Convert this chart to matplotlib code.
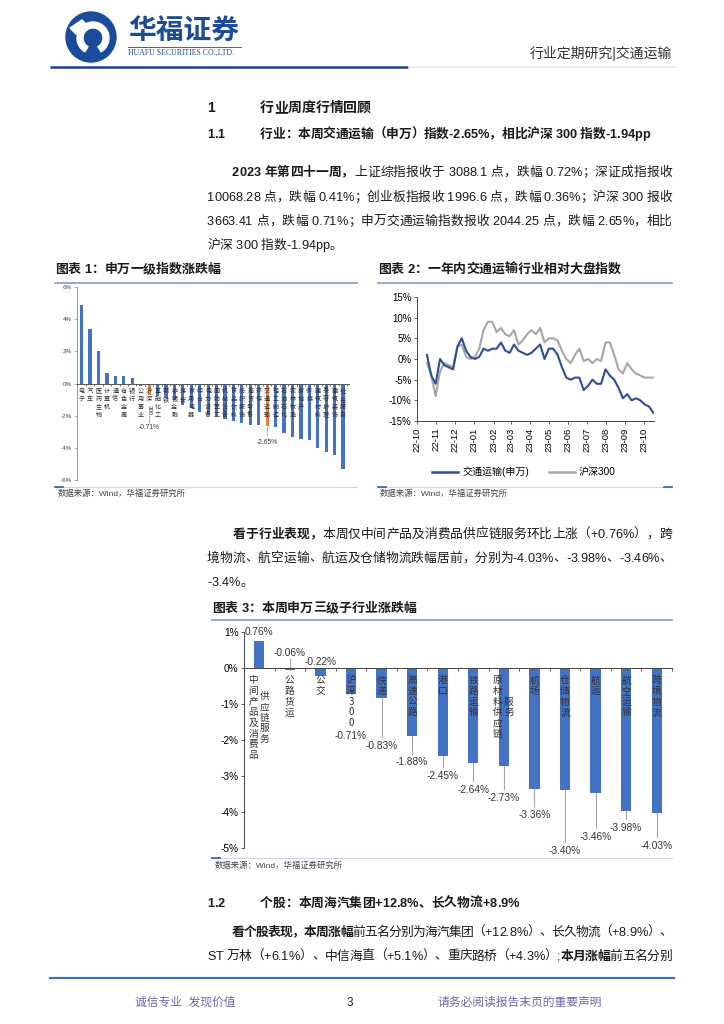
import matplotlib
matplotlib.use('Agg')
import matplotlib.pyplot as plt
import matplotlib.dates as mdates
from matplotlib.font_manager import FontProperties
from matplotlib.patches import Circle, Wedge, Polygon
from matplotlib.lines import Line2D
from matplotlib.ticker import FuncFormatter
import pandas as pd
import numpy as np

plt.rcParams['font.family'] = ['Liberation Sans', 'Noto Sans CJK SC', 'DejaVu Sans']
plt.rcParams['axes.unicode_minus'] = False

# ---------------- data ----------------
# Chart 1: Shenwan level-1 industries weekly change (%)
ind_names = ['电子', '汽车', '医药生物', '计算机', '通信', '有色金属', '银行', '公用事业',
             '沪深300', '基础化工', '钢铁', '非银金融', '煤炭', '家用电器', '综合', '电力设备',
             '国防军工', '机械设备', '食品饮料', '纺织服饰', '商贸零售', '环保', '交通运输',
             '轻工制造', '石油石化', '农林牧渔', '房地产', '传媒', '建筑材料', '美容护理',
             '建筑装饰', '社会服务']
ind_values = [4.90, 3.38, 2.00, 0.65, 0.48, 0.46, 0.35, -0.18,
              -0.71, -0.80, -0.90, -1.05, -1.35, -1.55, -1.75, -1.90,
              -2.05, -2.20, -2.35, -2.45, -2.55, -2.60, -2.65,
              -2.70, -3.05, -3.35, -3.45, -3.50, -3.98, -4.27,
              -4.46, -5.30]
ind_highlight = ['沪深300', '交通运输']

# Chart 2: relative index (%), weekly readings
line_dates = pd.date_range('2022-10-17', periods=53, freq='7D')
transport_idx = [1.0, -4.0, -6.0, 0.0, -1.5, -2.0, -2.5, 3.0, 5.0, 2.0,
                 0.5, 0.0, 0.5, 2.5, 2.0, 2.5, 2.5, 4.0, 2.0, 1.5,
                 3.5, 2.0, 1.5, 1.0, 1.5, 2.5, 3.5, 0.0, 2.5, 2.5,
                 1.0, -2.0, -4.5, -5.0, -4.5, -4.5, -7.5, -6.5, -5.0, -6.0,
                 -6.0, -2.5, -4.0, -5.0, -7.0, -9.5, -8.5, -10.0, -9.5, -10.0,
                 -11.0, -11.5, -13.0]
hs300_idx = [-1.0, -4.0, -9.0, -3.0, -1.0, -1.5, -2.0, 3.0, 3.5, 0.5,
             0.0, 0.5, 2.5, 7.0, 9.0, 9.0, 6.5, 7.5, 6.0, 5.5,
             7.0, 3.5, 4.5, 6.0, 7.0, 6.0, 7.5, 4.0, 5.0, 5.0,
             4.5, 2.0, 0.0, -1.0, 1.0, 2.5, -0.5, 0.0, -1.0, 0.0,
             -0.5, 4.0, 4.0, 1.0, -2.5, -3.5, -1.0, -2.5, -3.5, -4.0,
             -4.5, -4.5, -4.5]
series_names = ['交通运输(申万)', '沪深300']

# Chart 3: Shenwan level-3 transport sub-industries (%)
sub_names = ['中间产品及消费品供应链服务', '公路货运', '公交', '沪深300', '快递', '高速公路',
             '港口', '铁路运输', '原材料供应链服务', '机场', '仓储物流', '航运', '航空运输', '跨境物流']
sub_values = [0.76, -0.06, -0.22, -0.71, -0.83, -1.88, -2.45, -2.64, -2.73,
              -3.36, -3.40, -3.46, -3.98, -4.03]

# ---------------- layout / styling ----------------
W, H = 724, 1024
fig = plt.figure(figsize=(7.24, 10.24), dpi=100)
bg = fig.add_axes([0, 0, 1, 1], zorder=0)
bg.set_xlim(0, W)
bg.set_ylim(H, 0)
bg.axis('off')

CJK = ['Liberation Sans', 'Noto Sans CJK SC', 'DejaVu Sans']
BLUE = '#4472C4'
ORANGE = '#ED7D31'
DARKBLUE = '#2E4D9B'
GRAY = '#A6A6A6'
TXT = '#1a1a1a'


def ax_px(l, t, r, b):
    return fig.add_axes([l / W, 1 - b / H, (r - l) / W, (b - t) / H], zorder=2)


def fp(size, bold=False):
    return FontProperties(family=CJK, size=size, weight='bold' if bold else 'normal')


renderer = fig.canvas.get_renderer()
_cache = {}


def adv(c, size, bold):
    key = (c, size, bold)
    if key not in _cache:
        p = fp(size, bold)
        w2 = renderer.get_text_width_height_descent('H' + c + 'H', p, False)[0]
        w0 = renderer.get_text_width_height_descent('HH', p, False)[0]
        _cache[key] = w2 - w0
    return _cache[key]


def is_cjk(c):
    return ord(c) >= 0x2E80


def draw_runs(x0, yc, runs, size, right=None, color=TXT):
    chars = [(c, b) for t, b in runs for c in t]
    ws = [adv(c, size, b) for c, b in chars]
    nat = sum(ws)
    gaps = [i for i in range(len(chars) - 1)
            if is_cjk(chars[i][0]) or is_cjk(chars[i + 1][0]) or chars[i][0] == ' ']
    extra = 0.0
    if right is not None and gaps:
        extra = (right - x0 - nat) / len(gaps)
    gapset = set(gaps)
    base = yc + size * 100 / 72 * 0.36
    x = x0
    for i, ((c, b), w) in enumerate(zip(chars, ws)):
        if c != ' ':
            bg.text(x, base, c, fontproperties=fp(size, b), va='baseline', ha='left', color=color)
        x += w + (extra if i in gapset else 0)


# ---------------- header ----------------
bg.add_patch(Circle((91, 37), 25, color='#1B4B9B', zorder=3))
bg.add_patch(Wedge((93, 38), 16, 120, 420, width=6, color='white', zorder=4))
bg.add_patch(Polygon([[93, 30], [101, 38], [93, 46], [85, 38]], closed=True, color='#1B4B9B', zorder=5))
bg.add_patch(Polygon([[70, 28], [82, 20], [88, 26], [76, 34]], closed=True, color='white', zorder=4))
bg.text(128, 33, '华福证券', fontproperties=fp(20, True), color='#1B4B9B', va='center', ha='left')
bg.plot([128, 241], [46.5, 46.5], color='#1B4B9B', lw=0.6)
bg.text(128, 53, 'HUAFU SECURITIES CO.,LTD.', family='Liberation Serif', fontsize=5.6,
        color='#1B4B9B', va='center', ha='left')
bg.text(672, 53, '行业定期研究|交通运输', fontproperties=fp(10), color='#333333', va='center', ha='right')
bg.plot([50, 408], [67, 67], color='#1F3F8F', lw=1.8, solid_capstyle='butt')
bg.plot([408, 677], [67, 67], color='#DCE4F2', lw=1.2, solid_capstyle='butt')

# ---------------- section text ----------------
draw_runs(207, 107, [('1', True)], 10)
draw_runs(260, 107, [('行业周度行情回顾', True)], 10)
draw_runs(207, 133, [('1.1', True)], 9.2)
draw_runs(260, 133, [('行业：本周交通运输（申万）指数-2.65%，相比沪深 300 指数-1.94pp', True)], 9.2, right=650)

BS = 9.2
draw_runs(232, 171, [('2023 年第四十一周，', True), ('上证综指报收于 3088.1 点，跌幅 0.72%；深证成指报收', False)], BS, right=672)
draw_runs(207, 196, [('10068.28 点，跌幅 0.41%；创业板指报收 1996.6 点，跌幅 0.36%；沪深 300 报收', False)], BS, right=672)
draw_runs(207, 220, [('3663.41 点，跌幅 0.71%；申万交通运输指数报收 2044.25 点，跌幅 2.65%，相比', False)], BS, right=672)
draw_runs(207, 244, [('沪深 300 指数-1.94pp。', False)], BS)

# chart titles
draw_runs(55, 268, [('图表 1：申万一级指数涨跌幅', True)], 9.3)
draw_runs(378, 268, [('图表 2：一年内交通运输行业相对大盘指数', True)], 9.3)
for (a, b) in [(55, 357), (378, 672)]:
    bg.plot([a, b], [283, 283], color='#7F9CD0', lw=1.2)
    bg.plot([a, b], [487, 487], color='#C9D6EC', lw=0.8)
    bg.plot([a, a + 8], [487, 487], color='#2E5BB0', lw=1.2)
bg.plot([664, 672], [487, 487], color='#2E5BB0', lw=1.2)
bg.text(58, 494, '数据来源：Wind，华福证券研究所', fontproperties=fp(6), color='#444444', va='center')
bg.text(380, 494, '数据来源：Wind，华福证券研究所', fontproperties=fp(6), color='#444444', va='center')

draw_runs(233, 533, [('看于行业表现，', True), ('本周仅中间产品及消费品供应链服务环比上涨（+0.76%），跨', False)], BS, right=672)
draw_runs(207, 557, [('境物流、航空运输、航运及仓储物流跌幅居前，分别为-4.03%、-3.98%、-3.46%、', False)], BS, right=672)
draw_runs(207, 581, [('-3.4%。', False)], BS)

draw_runs(212, 607, [('图表 3：本周申万三级子行业涨跌幅', True)], 9.3)
bg.plot([212, 672], [620, 620], color='#7F9CD0', lw=1.2)
bg.plot([212, 672], [858, 858], color='#C9D6EC', lw=0.8)
bg.plot([212, 220], [858, 858], color='#2E5BB0', lw=1.2)
bg.text(215, 866, '数据来源：Wind，华福证券研究所', fontproperties=fp(6), color='#444444', va='center')

draw_runs(207, 902, [('1.2', True)], 9.2)
draw_runs(260, 902, [('个股：本周海汽集团+12.8%、长久物流+8.9%', True)], 9.2)
draw_runs(232, 931, [('看个股表现，本周涨幅', True), ('前五名分别为海汽集团（+12.8%）、长久物流（+8.9%）、', False)], BS, right=672)
draw_runs(207, 955, [('ST 万林（+6.1%）、中信海直（+5.1%）、重庆路桥（+4.3%）;', False), ('本月涨幅', True), ('前五名分别', False)], BS, right=672)

# footer
bg.plot([50, 674], [978, 978], color='#4A6FB0', lw=1.6)
bg.text(135, 1003, '诚信专业  发现价值', fontproperties=fp(8.5), color='#6B6BA8', va='center')
bg.text(347, 1003, '3', fontproperties=fp(8.5), color='#222222', va='center')
bg.text(437, 1003, '请务必阅读报告末页的重要声明', fontproperties=fp(8.5), color='#6B6BA8', va='center')

pct = FuncFormatter(lambda v, p: f'{v:.0f}%')

# ---------------- chart 1 ----------------
ax1 = ax_px(77, 287, 349, 480)
x1 = np.arange(len(ind_names))
c1 = [ORANGE if n in ind_highlight else BLUE for n in ind_names]
ax1.bar(x1, ind_values, width=0.38, color=c1, zorder=2)
ax1.set_ylim(-6, 6)
ax1.set_xlim(-0.55, len(ind_names) - 0.3)
ax1.set_yticks([-6, -4, -2, 0, 2, 4, 6])
ax1.yaxis.set_major_formatter(pct)
ax1.tick_params(axis='y', labelsize=4.5, length=2, width=0.5, color='#888888', labelcolor='#444444', pad=1.5)
ax1.set_xticks(np.arange(-0.5, len(ind_names), 1))
ax1.tick_params(axis='x', length=1.5, width=0.5, color='#333333', labelbottom=False)
for s in ['top', 'right']:
    ax1.spines[s].set_visible(False)
ax1.spines['bottom'].set_position(('data', 0))
ax1.spines['bottom'].set_color('#555555')
ax1.spines['bottom'].set_linewidth(0.7)
ax1.spines['left'].set_color('#888888')
ax1.spines['left'].set_linewidth(0.6)
ax1.patch.set_alpha(0)
for i, n in enumerate(ind_names):
    cjk_part = ''.join(c for c in n if is_cjk(c))
    asc_part = ''.join(c for c in n if not is_cjk(c))
    t = ax1.text(i, -0.2, '\n'.join(cjk_part), ha='center', va='top', fontsize=4.4, linespacing=1.0,
                 family=['Noto Sans CJK SC', 'DejaVu Sans'], color='#333333', zorder=3)
    if asc_part:
        bb = t.get_window_extent(renderer)
        ybot = ax1.transData.inverted().transform((bb.x0, bb.y0))[1]
        ax1.text(i, ybot - 0.12, asc_part, ha='center', va='top', rotation=-90,
                 fontsize=4.4, color='#333333', zorder=3)
for n, ytxt, l0, l1 in [('沪深300', -2.72, -2.0, -2.42), ('交通运输', -3.65, -2.72, -3.2)]:
    i = ind_names.index(n)
    v = ind_values[i]
    ax1.plot([i, i], [l0, l1], color='#B0B0B0', lw=0.7)
    ax1.text(i, ytxt, f'{v:.2f}%', ha='center', va='center', fontsize=4.8, color='#333333')

# ---------------- chart 2 ----------------
ax2 = ax_px(417, 297, 654, 421)
ax2.plot(line_dates, hs300_idx, color=GRAY, lw=1.5, zorder=2)
ax2.plot(line_dates, transport_idx, color=DARKBLUE, lw=1.5, zorder=3)
ax2.set_ylim(-15, 15)
ax2.set_yticks([-15, -10, -5, 0, 5, 10, 15])
ax2.yaxis.set_major_formatter(pct)
ax2.set_xlim(pd.Timestamp('2022-10-01'), pd.Timestamp('2023-10-17'))
ax2.xaxis.set_major_locator(mdates.MonthLocator())
ax2.xaxis.set_major_formatter(mdates.DateFormatter('%y-%m'))
ax2.tick_params(axis='x', labelrotation=90, labelsize=6.8, length=2.5, width=0.6, color='#444444', pad=2)
ax2.tick_params(axis='y', labelsize=7, length=2.5, width=0.6, color='#444444', pad=1.5)
for s in ['top', 'right']:
    ax2.spines[s].set_visible(False)
for s in ['left', 'bottom']:
    ax2.spines[s].set_color('#444444')
    ax2.spines[s].set_linewidth(0.7)
ax2.patch.set_alpha(0)
handles = [Line2D([], [], color=DARKBLUE, lw=1.8), Line2D([], [], color=GRAY, lw=1.8)]
ax2.legend(handles, series_names, loc='center', bbox_to_anchor=(524 / W, 1 - 472 / H),
           bbox_transform=fig.transFigure, ncol=2, frameon=False,
           handlelength=2.6, columnspacing=2.0, handletextpad=0.4,
           prop=FontProperties(family=['Liberation Sans', 'Noto Sans CJK SC'], size=7.2))

# ---------------- chart 3 ----------------
ax3 = ax_px(244, 632, 672, 848)
x3 = np.arange(len(sub_names))
ax3.bar(x3, sub_values, width=0.34, color=BLUE, zorder=2)
ax3.set_ylim(-5, 1)
ax3.set_xlim(-0.47, len(sub_names) - 0.5)
ax3.set_yticks([-5, -4, -3, -2, -1, 0, 1])
ax3.yaxis.set_major_formatter(pct)
ax3.tick_params(axis='y', labelsize=7.3, length=2.5, width=0.6, color='#444444', pad=1.5)
ax3.set_xticks(np.arange(-0.5, len(sub_names), 1))
ax3.tick_params(axis='x', length=2.5, width=0.6, color='#444444', labelbottom=False)
for s in ['top', 'right']:
    ax3.spines[s].set_visible(False)
ax3.spines['bottom'].set_position(('data', 0))
for s in ['left', 'bottom']:
    ax3.spines[s].set_color('#444444')
    ax3.spines[s].set_linewidth(0.7)
ax3.patch.set_alpha(0)

label_cols = {'中间产品及消费品供应链服务': ['中间产品及消费品', '供应链服务'],
              '原材料供应链服务': ['原材料供应链', '服务']}
lh = 0.295
for i, n in enumerate(sub_names):
    cols = label_cols.get(n, [n])
    nmax = max(len(c) for c in cols)
    yc = -0.2 - nmax * lh / 2
    offs = [0.0] if len(cols) == 1 else [-0.2, 0.17]
    for c, o in zip(cols, offs):
        ax3.text(i + o, yc, '\n'.join(c), ha='center', va='center', fontsize=7, linespacing=1.08,
                 family=['Noto Sans CJK SC', 'DejaVu Sans'], color='#333333', zorder=3)

label_y3 = [1.0, 0.42, 0.17, -1.89, -2.17, -2.62, -2.99, -3.39, -3.62, -4.08, -5.07, -4.70, -4.45, -4.94]
leader_end = [None, 0.25, None, None, -1.93, -2.40, -2.75, -3.15, -3.37, -3.82, -4.82, -4.45, -4.20, -4.70]
for i, v in enumerate(sub_values):
    if leader_end[i] is not None:
        ax3.plot([i, i], [min(v, 0), leader_end[i]], color='#A6A6A6', lw=0.8, zorder=1)
    ax3.text(i, label_y3[i], f'{v:.2f}%', ha='center', va='center', fontsize=7.3, color='#333333',
             zorder=4, clip_on=False)

fig.savefig('out.png', dpi=100)
